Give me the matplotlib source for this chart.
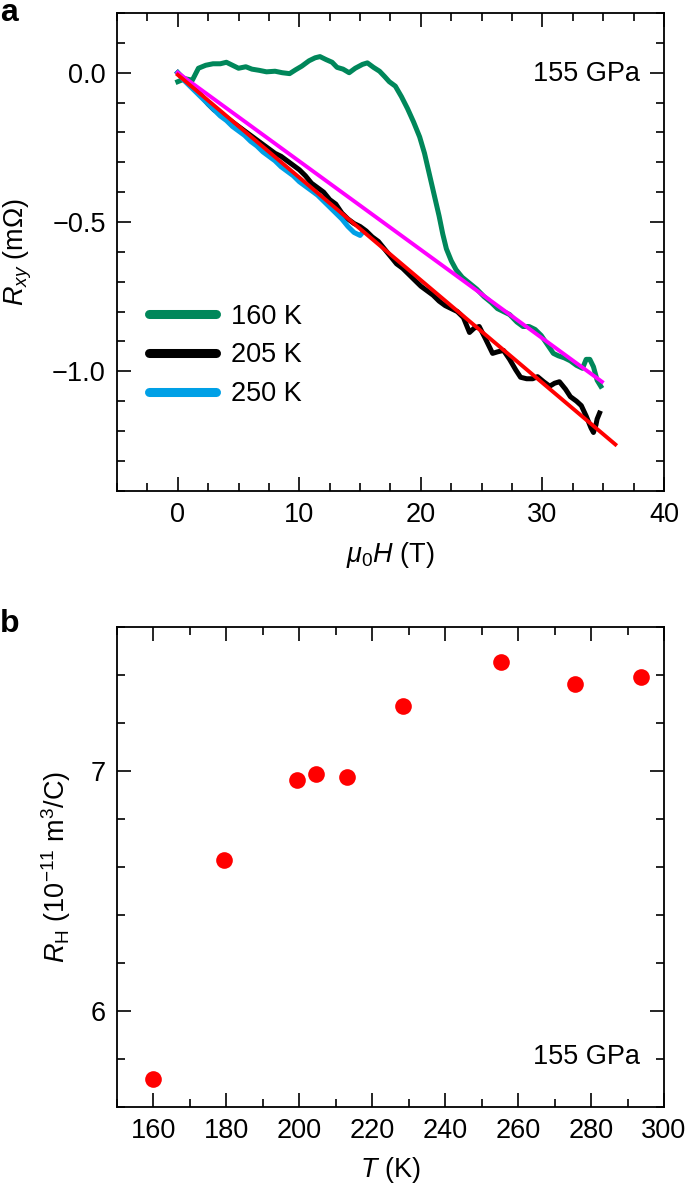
import matplotlib
matplotlib.use("Agg")
import matplotlib.pyplot as plt
from matplotlib.lines import Line2D
from matplotlib.ticker import MultipleLocator

plt.rcParams["font.family"] = ["Liberation Sans", "DejaVu Sans"]
plt.rcParams["mathtext.fontset"] = "custom"
plt.rcParams["mathtext.rm"] = "Liberation Sans"
plt.rcParams["mathtext.it"] = "Liberation Sans:italic"
plt.rcParams["font.size"] = 19.5

# ---- panel a: Hall resistance vs field ----
h160 = [0.0, 0.6, 1.2, 1.7, 2.3, 2.9, 3.5, 4.0, 4.5, 5.0, 5.6, 6.1, 6.7, 7.3, 8.0, 8.6, 9.2, 9.7,
        10.2, 10.8, 11.3, 11.7, 12.2, 12.7, 13.1, 13.6, 14.1, 14.6, 15.2, 15.6, 16.1, 16.6, 17.0,
        17.4, 17.9, 18.4, 18.9, 19.4, 19.9, 20.3, 20.7, 21.1, 21.5, 21.8, 22.1, 22.5, 22.9, 23.4,
        24.0, 24.6, 25.2, 25.8, 26.3, 26.8, 27.3, 27.9, 28.4, 28.9, 29.4, 29.9, 30.4, 30.9, 31.3,
        31.8, 32.3, 32.8, 33.3, 33.6, 33.9, 34.2, 34.5, 34.8]
r160 = [-0.03, -0.02, -0.025, 0.015, 0.025, 0.03, 0.03, 0.035, 0.025, 0.015, 0.02, 0.012, 0.008,
        0.003, 0.005, 0.0, -0.003, 0.01, 0.022, 0.04, 0.05, 0.054, 0.044, 0.035, 0.018, 0.012, 0.0,
        0.015, 0.028, 0.033, 0.018, 0.005, -0.012, -0.03, -0.045, -0.08, -0.12, -0.165, -0.215,
        -0.27, -0.34, -0.41, -0.48, -0.54, -0.59, -0.63, -0.66, -0.685, -0.705, -0.725, -0.75,
        -0.77, -0.79, -0.80, -0.81, -0.835, -0.85, -0.85, -0.86, -0.88, -0.91, -0.94, -0.948,
        -0.955, -0.965, -0.98, -0.99, -0.96, -0.96, -0.985, -1.03, -1.05]

h205 = [0.0, 0.5, 1.0, 1.5, 2.0, 2.5, 3.0, 3.5, 4.0, 4.5, 5.0, 5.5, 6.0, 6.5, 7.0, 7.5, 8.0, 8.5,
        9.0, 9.5, 10.0, 10.5, 11.0, 11.5, 12.0, 12.5, 13.0, 13.5, 14.0, 14.5, 15.0, 15.5, 16.0,
        16.5, 17.0, 17.5, 18.0, 18.5, 19.0, 19.5, 20.0, 20.5, 21.0, 21.5, 22.0, 22.5, 23.0, 23.5,
        24.0, 24.4, 24.8, 25.3, 25.9, 26.3, 26.8, 27.3, 27.8, 28.2, 28.7, 29.2, 29.6, 30.1, 30.6,
        31.0, 31.4, 31.9, 32.3, 32.8, 33.2, 33.6, 34.0, 34.2, 34.4, 34.5, 34.7]
r205 = [0.0, -0.02, -0.04, -0.06, -0.08, -0.105, -0.125, -0.135, -0.15, -0.165, -0.18, -0.195,
        -0.21, -0.225, -0.24, -0.255, -0.27, -0.28, -0.295, -0.31, -0.325, -0.345, -0.37, -0.385,
        -0.40, -0.425, -0.44, -0.47, -0.49, -0.505, -0.515, -0.53, -0.55, -0.565, -0.59, -0.615,
        -0.64, -0.655, -0.675, -0.695, -0.715, -0.73, -0.745, -0.765, -0.78, -0.79, -0.80, -0.82,
        -0.87, -0.855, -0.85, -0.89, -0.94, -0.935, -0.93, -0.96, -0.995, -1.02, -1.025, -1.025,
        -1.018, -1.035, -1.05, -1.04, -1.035, -1.06, -1.085, -1.10, -1.115, -1.15, -1.19, -1.205,
        -1.18, -1.16, -1.14]

h250 = [0.0, 0.5, 1.0, 1.5, 2.0, 2.5, 3.0, 3.5, 4.0, 4.5, 5.0, 5.5, 6.0, 6.5, 7.0, 7.5, 8.0, 8.5,
        9.0, 9.5, 10.0, 10.5, 11.0, 11.5, 12.0, 12.5, 13.0, 13.5, 14.0, 14.5, 15.0, 15.2]
r250 = [0.0, -0.025, -0.045, -0.065, -0.085, -0.105, -0.125, -0.145, -0.16, -0.18, -0.195, -0.21,
        -0.23, -0.245, -0.265, -0.28, -0.295, -0.315, -0.33, -0.345, -0.365, -0.38, -0.395, -0.41,
        -0.43, -0.45, -0.47, -0.49, -0.515, -0.535, -0.545, -0.535]

fit_red_h = [0.0, 36.0]
fit_red_r = [-0.007, -1.245]
fit_mag_h = [0.0, 34.9]
fit_mag_r = [0.0, -1.035]

# ---- panel b: Hall coefficient vs temperature ----
temps = [160, 179.4, 199.4, 204.7, 213.0, 228.5, 255.2, 275.7, 293.6]
rh = [5.715, 6.63, 6.962, 6.987, 6.976, 7.271, 7.455, 7.365, 7.394]

c_green = "#00875a"
c_blue = "#00a0e6"
c_mag = "#ff00ff"
c_red = "#ff0000"

fig = plt.figure(figsize=(6.85, 11.83), dpi=100)
ax1 = fig.add_axes([0.1708, 0.5852, 0.7985, 0.4038])
ax2 = fig.add_axes([0.1708, 0.0645, 0.7985, 0.4052])

ax1.plot(h160, r160, color=c_green, lw=3.6, solid_joinstyle="round")
ax1.plot(h205, r205, color="black", lw=3.6, solid_joinstyle="round")
ax1.plot(h250, r250, color=c_blue, lw=3.6, solid_joinstyle="round")
ax1.plot(fit_mag_h, fit_mag_r, color=c_mag, lw=2.8)
ax1.plot(fit_red_h, fit_red_r, color=c_red, lw=2.8)
ax1.set_xlim(-5, 40)
ax1.set_ylim(-1.4, 0.2)
ax1.xaxis.set_major_locator(MultipleLocator(10))
ax1.xaxis.set_minor_locator(MultipleLocator(2.5))
ax1.yaxis.set_major_locator(MultipleLocator(0.5))
ax1.yaxis.set_minor_locator(MultipleLocator(0.1))
ax1.set_xlabel(r"$\mu_0H$ (T)", labelpad=9)
ax1.set_ylabel(r"$R_{xy}$ (mΩ)", labelpad=13)
ax1.text(0.956, 0.872, "155 GPa", transform=ax1.transAxes, ha="right", va="center")

handles = [Line2D([], [], color=c, lw=6.5, solid_capstyle="round") for c in (c_green, "black", c_blue)]
ax1.legend(handles, ["160 K", "205 K", "250 K"], loc="center left", bbox_to_anchor=(0.058, 0.2834),
           frameon=False, borderpad=0, borderaxespad=0, handlelength=2.5, handletextpad=0.55,
           labelspacing=0.47, fontsize=19.5)

ax2.plot(temps, rh, "o", color=c_red, ms=12, mec="none")
ax2.set_xlim(150, 300)
ax2.set_ylim(5.6, 7.6)
ax2.xaxis.set_major_locator(MultipleLocator(20))
ax2.xaxis.set_minor_locator(MultipleLocator(10))
ax2.yaxis.set_major_locator(MultipleLocator(1))
ax2.yaxis.set_minor_locator(MultipleLocator(0.2))
ax2.set_xlabel(r"$T$ (K)", labelpad=8)
ax2.set_ylabel(r"$R_\mathrm{H}$ (10$^{-11}$ m$^3$/C)", labelpad=13)
ax2.text(0.956, 0.104, "155 GPa", transform=ax2.transAxes, ha="right", va="center")

for ax in (ax1, ax2):
    for s in ax.spines.values():
        s.set_linewidth(1.3)
    ax.tick_params(which="both", direction="in", top=True, right=True, width=1.2, pad=8)
    ax.tick_params(which="major", length=10)
    ax.tick_params(which="minor", length=5.5)

fig.text(0.0, 1 - 21 / 1183, "a", fontsize=23, fontweight="bold", va="baseline")
fig.text(0.0, 1 - 632 / 1183, "b", fontsize=23, fontweight="bold", va="baseline")

fig.savefig("out.png", dpi=100)
